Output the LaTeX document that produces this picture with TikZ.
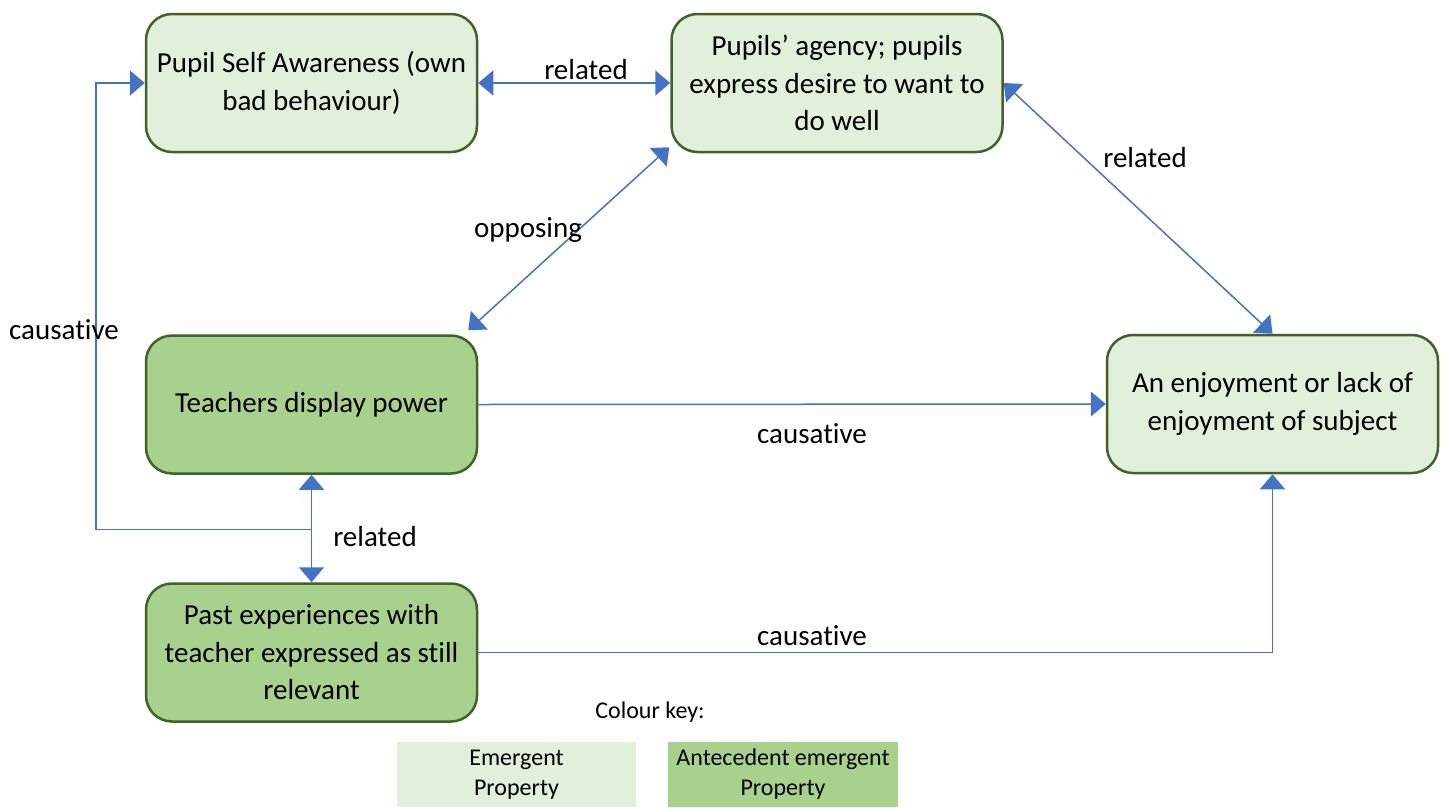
\documentclass[tikz,border=0pt]{standalone}
\usepackage{fontspec}
\setmainfont{Carlito}[Ligatures=NoCommon]
\usetikzlibrary{arrows.meta,calc}
\definecolor{lightfill}{HTML}{E2EFDA}
\definecolor{darkfill}{HTML}{A9D18E}
\definecolor{boxline}{HTML}{41622A}
\definecolor{link}{HTML}{4472C4}

\begin{document}
\begin{tikzpicture}[x=1pt,y=-1pt,
  prop/.style={draw=boxline, line width=2.5pt, rounded corners=26pt,
    minimum width=331pt, minimum height=138pt, align=center,
    font=\fontsize{29}{37.5}\selectfont, inner sep=0pt},
  emergent/.style={prop, fill=lightfill},
  antecedent/.style={prop, fill=darkfill},
  tip/.tip={Triangle[length=15pt,width=25pt]},
  conn/.style={draw=link, line width=1.5pt, -tip},
  biconn/.style={draw=link, line width=1.5pt, tip-tip},
  lbl/.style={font=\fontsize{29}{34}\selectfont, inner sep=0pt},
  keybox/.style={minimum height=65pt, align=center,
    font=\fontsize{24}{30}\selectfont, inner sep=0pt}
]
\useasboundingbox (0,0) rectangle (1449,807);

% properties
\node[emergent] (awareness) at (311.5,83) {Pupil Self Awareness (own\\bad behaviour)};
\node[emergent] (agency) at (837,83) {Pupils’ agency; pupils\\express desire to want to\\do well};
\node[antecedent] (power) at (311.5,404.5) {Teachers display power};
\node[emergent] (enjoy) at (1272.5,404) {An enjoyment or lack of\\enjoyment of subject};
\node[antecedent] (past) at (311.5,652.5) {Past experiences with\\teacher expressed as still\\relevant};

% colour key
\node[font=\fontsize{24}{28}\selectfont, inner sep=0pt] (keytitle) at (650,712) {Colour key:};
\node[keybox, fill=lightfill, minimum width=239pt] (keyemergent) at (516.5,774.5) {Emergent\\Property};
\node[keybox, fill=darkfill, minimum width=230pt] (keyantecedent) at (783,774.5) {Antecedent emergent\\Property};

% relations
\draw[biconn] (awareness.east) -- (agency.west);
\draw[biconn] ($(agency.south west)+(-1,-6)$) -- ($(power.north east)+(-10,-4)$);
\draw[biconn] (agency.east) -- (enjoy.north);
\draw[conn] (power.east) -- (enjoy.west);
\draw[biconn] (power.south) -- (past.north);
\coordinate (junction) at ($(past.north)+(0,-53)$);
\draw[conn] (junction) -| ($(awareness.west)+(-49,0)$) -- (awareness.west);
\draw[conn] (past.east) -| (enjoy.south);

% relation labels
\node[lbl] (lab1) at (586,70) {related};
\node[lbl] (lab2) at (528,230) {opposing};
\node[lbl] (lab3) at (1145,158) {related};
\node[lbl] (lab4) at (812,434) {causative};
\node[lbl] (lab5) at (375,537) {related};
\node[lbl] (lab6) at (64,330) {causative};
\node[lbl] (lab7) at (812,636) {causative};
\end{tikzpicture}
\end{document}
